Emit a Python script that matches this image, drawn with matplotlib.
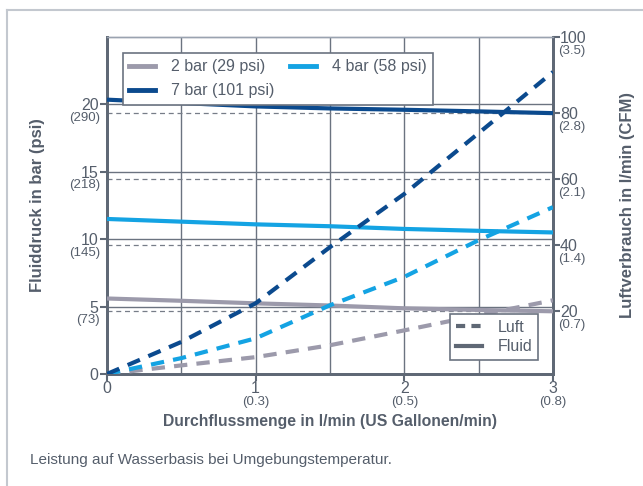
import matplotlib.pyplot as plt
from matplotlib.lines import Line2D
from matplotlib.transforms import blended_transform_factory, offset_copy

plt.rcParams['font.family'] = ['Liberation Sans', 'DejaVu Sans']

# flow rate in l/min
flow = [0, 0.5, 1, 1.5, 2, 2.5, 3]

# fluid pressure in bar (left axis, solid)
fluid_2bar = [5.6, 5.43, 5.24, 5.08, 4.87, 4.75, 4.65]
fluid_4bar = [11.5, 11.3, 11.1, 10.96, 10.76, 10.62, 10.5]
fluid_7bar = [20.35, 20.1, 19.85, 19.7, 19.6, 19.48, 19.35]

# air consumption in l/min (right axis, dashed)
air_2bar = [1, 3.6, 6.1, 9.7, 14.2, 18.8, 23.3]
air_4bar = [1, 5.8, 11.8, 21.8, 30.4, 41.5, 51.5]
air_7bar = [1, 10.7, 22.4, 39.4, 55.5, 73.9, 92.4]

labels = ['2 bar (29 psi)', '4 bar (58 psi)', '7 bar (101 psi)']
colors = ['#9c9aab', '#14a3e3', '#0b4a8e']

left_ticks = [0, 5, 10, 15, 20]
left_sub = ['', '(73)', '(145)', '(218)', '(290)']
right_ticks = [20, 40, 60, 80, 103]
right_main = ['20', '40', '60', '80', '100']
right_sub = ['(0.7)', '(1.4)', '(2.1)', '(2.8)', '(3.5)']
x_ticks = [0, 1, 2, 3]
x_sub = ['', '(0.3)', '(0.5)', '(0.8)']

txt = '#555e6b'
spine = '#5f6875'

fig = plt.figure(figsize=(6.43, 4.86), dpi=100)
ax = fig.add_axes([0.1664, 0.2305, 0.6936, 0.6934])
ax2 = ax.twinx()

ax.set_xlim(0, 3)
ax.set_ylim(0, 25)
ax2.set_ylim(1, 103)

# grid: verticals every 0.5, solid horizontals on left ticks, dashed on right ticks
for xv in [0.5, 1, 1.5, 2, 2.5]:
    ax.axvline(xv, color='#6b7380', lw=1.0, zorder=1)
for yv in left_ticks[1:]:
    ax.axhline(yv, color='#6b7380', lw=1.0, zorder=1)
for yv in right_ticks[:-1]:
    ax2.axhline(yv, color='#777d88', lw=0.9, ls=(0, (4, 3)), zorder=1)


# fluid lines go on the right axes too so they sit above the grid;
# convert left-axis values through the display transform
def to_right(vals):
    out = []
    for v in vals:
        disp = ax.transData.transform((0, v))[1]
        out.append(ax2.transData.inverted().transform((0, disp))[1])
    return out


fig.canvas.draw()
for fl, c in zip([fluid_2bar, fluid_4bar, fluid_7bar], colors):
    ax2.plot(flow, to_right(fl), color=c, lw=3, solid_capstyle='butt', zorder=3)
for ar, c in zip([air_2bar, air_4bar, air_7bar], colors):
    ax2.plot(flow, ar, color=c, lw=3, ls=(0, (3.2, 2.2)), zorder=3)

# spines
for a in (ax, ax2):
    a.spines['top'].set_color('#9aa3b0')
    a.spines['top'].set_linewidth(1.0)
    for s in ('left', 'bottom', 'right'):
        a.spines[s].set_color(spine)
        a.spines[s].set_linewidth(2.0)

# ticks
ax.set_xticks(x_ticks)
ax.set_xticklabels([str(t) for t in x_ticks], fontsize=11.5, color=txt)
ax.set_yticks(left_ticks)
ax.set_yticklabels([str(t) for t in left_ticks], fontsize=11.5, color=txt)
ax.tick_params(axis='x', length=5, width=1.5, color=spine, pad=0)
ax.tick_params(axis='y', length=5, width=1.5, color=spine, pad=1)
ax2.set_yticks(right_ticks)
ax2.set_yticklabels(right_main, fontsize=11.5, color=txt)
ax2.tick_params(axis='y', length=5, width=1.5, color=spine, pad=0)

# secondary (imperial) labels
tr_left = offset_copy(blended_transform_factory(ax.transAxes, ax.transData), fig=fig, x=-5, y=-5.5, units='points')
for t, s in zip(left_ticks, left_sub):
    ax.text(0, t, s, transform=tr_left, ha='right', va='top', fontsize=9.5, color=txt)
tr_right = offset_copy(blended_transform_factory(ax2.transAxes, ax2.transData), fig=fig, x=4, y=-5.5, units='points')
for t, s in zip(right_ticks, right_sub):
    ax2.text(1, t, s, transform=tr_right, ha='left', va='top', fontsize=9.5, color=txt)
tr_x = offset_copy(blended_transform_factory(ax.transData, ax.transAxes), fig=fig, x=0, y=-16, units='points')
for t, s in zip(x_ticks, x_sub):
    ax.text(t, 0, s, transform=tr_x, ha='center', va='top', fontsize=9.5, color=txt)

ax.set_ylabel('Fluiddruck in bar (psi)', fontsize=12, fontweight='bold', color=txt, labelpad=26)
ax2.set_ylabel('Luftverbrauch in l/min (CFM)', fontsize=12, fontweight='bold', color=txt, labelpad=24)
ax.set_xlabel('Durchflussmenge in l/min (US Gallonen/min)', fontsize=11.3, fontweight='bold', color=txt, labelpad=13)

# legends
handles = [Line2D([], [], color=c, lw=3.5) for c in colors]
order = [0, 2, 1]
leg1 = ax2.legend([handles[i] for i in order], [labels[i] for i in order], ncol=2,
                  loc='upper left', bbox_to_anchor=(0.036, 0.9525), borderaxespad=0,
                  fontsize=11.5, frameon=True, fancybox=False, edgecolor='#6b7380',
                  framealpha=1, handlelength=1.6, handletextpad=1.0, columnspacing=1.0,
                  borderpad=0.4, labelspacing=0.55, labelcolor=txt)
leg1.get_frame().set_linewidth(1.2)
ax2.add_artist(leg1)
style_handles = [Line2D([], [], color=spine, lw=3, ls=(0, (2.2, 1.5))),
                 Line2D([], [], color=spine, lw=3)]
leg2 = ax2.legend(style_handles, ['Luft', 'Fluid'], loc='lower right',
                  bbox_to_anchor=(0.966, 0.0415), borderaxespad=0, fontsize=11.5,
                  frameon=True, fancybox=False, edgecolor='#6b7380', framealpha=1,
                  handlelength=1.6, handletextpad=1.0, borderpad=0.35,
                  labelspacing=0.3, labelcolor=txt)
leg2.get_frame().set_linewidth(1.2)

# caption and outer frame
fig.text(30 / 643, 1 - 460 / 486, 'Leistung auf Wasserbasis bei Umgebungstemperatur.',
         fontsize=11, color=txt, va='center')
fig.add_artist(Line2D([7 / 643, 7 / 643], [0, 1 - 10 / 486], color='#c3c8cf', lw=1.5))
fig.add_artist(Line2D([7 / 643, 1], [1 - 10 / 486, 1 - 10 / 486], color='#c3c8cf', lw=1.5))

fig.savefig('out.png', dpi=100)
